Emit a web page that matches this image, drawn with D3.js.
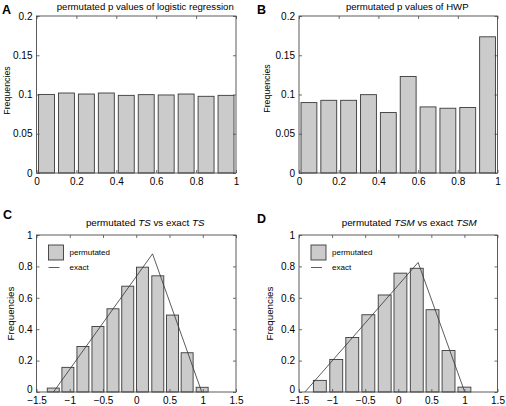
<!DOCTYPE html>
<html>
<head>
<meta charset="utf-8">
<script src="https://cdn.jsdelivr.net/npm/d3@7"></script>
<style>
  html, body { margin: 0; padding: 0; background: #fff; }
  svg { display: block; }
  text { font-family: "Liberation Sans", Arial, Helvetica, sans-serif; }
</style>
</head>
<body>
<script>
// ---------------- data ----------------
const pCenters = [0.05, 0.15, 0.25, 0.35, 0.45, 0.55, 0.65, 0.75, 0.85, 0.95];
const logisticFreq = [0.1001, 0.1019, 0.1006, 0.1019, 0.0989, 0.0998, 0.0994, 0.1006, 0.0977, 0.0989];
const hwpFreq = [0.0897, 0.0926, 0.0926, 0.0998, 0.0770, 0.1230, 0.0842, 0.0825, 0.0834, 0.1735];

const tsCenters = [-1.248, -1.028, -0.802, -0.576, -0.350, -0.128, 0.093, 0.324, 0.545, 0.765, 0.991];
const tsFreq = [0.025, 0.157, 0.290, 0.417, 0.530, 0.674, 0.795, 0.740, 0.490, 0.250, 0.030];
const tsExactX = [-1.245, 0.245, 0.985];
const tsExactY = [0, 0.880, 0];

const tsmCenters = [-1.185, -0.937, -0.695, -0.452, -0.205, 0.033, 0.280, 0.518, 0.760, 1.000];
const tsmFreq = [0.074, 0.207, 0.347, 0.492, 0.618, 0.757, 0.788, 0.524, 0.264, 0.031];
const tsmExactX = [-1.41, 0.30, 1.005];
const tsmExactY = [0, 0.825, 0];

const xTicksTop = [0, 0.2, 0.4, 0.6, 0.8, 1];
const xTickLabelsTop = ["0", "0.2", "0.4", "0.6", "0.8", "1"];
const yTicksTop = [0, 0.05, 0.1, 0.15, 0.2];
const yTickLabelsTop = ["0", "0.05", "0.1", "0.15", "0.2"];
const xTicksBottom = [-1.5, -1, -0.5, 0, 0.5, 1, 1.5];
const xTickLabelsBottom = ["\u22121.5", "\u22121", "\u22120.5", "0", "0.5", "1", "1.5"];
const yTicksBottom = [0, 0.2, 0.4, 0.6, 0.8, 1];
const yTickLabelsBottom = ["0", "0.2", "0.4", "0.6", "0.8", "1"];

const panelLetters = ["A", "B", "C", "D"];
const yLabel = "Frequencies";
const legendLabels = ["permutated", "exact"];

// ---------------- layout ----------------
const W = 506, H = 406;
const svg = d3.select("body").append("svg").attr("width", W).attr("height", H);
svg.append("rect").attr("width", W).attr("height", H).attr("fill", "#fff");

const BAR_FILL = "#cbcbcb", BAR_STROKE = "#3a3a3a", AX = "#4a4a4a";

const panels = [
  { letter: panelLetters[0], lx: 2, ly: 13.5,
    left: 36.5, right: 236, top: 16, bottom: 173,
    xDomain: [0, 1], yDomain: [0, 0.2],
    xTicks: xTicksTop, xLabels: xTickLabelsTop, yTicks: yTicksTop, yLabels: yTickLabelsTop,
    centers: pCenters, values: logisticFreq, barW: 0.08,
    titleParts: [["permutated p values of logistic regression", false]], titleY: 10, titleDx: 9, titleSize: 9.6,
    ylabX: -30, ylabDy: -4, ylabSize: 8.8, zeroLift: 0 },
  { letter: panelLetters[1], lx: 257, ly: 13.5,
    left: 299, right: 497.5, top: 16, bottom: 173,
    xDomain: [0, 1], yDomain: [0, 0.2],
    xTicks: xTicksTop, xLabels: xTickLabelsTop, yTicks: yTicksTop, yLabels: yTickLabelsTop,
    centers: pCenters, values: hwpFreq, barW: 0.08,
    titleParts: [["permutated p values of HWP", false]], titleY: 10, titleDx: 9, titleSize: 9.6,
    ylabX: -32, ylabDy: -6, ylabSize: 8.8, zeroLift: 0 },
  { letter: panelLetters[2], lx: 3, ly: 218.5,
    left: 36.5, right: 236, top: 235, bottom: 392,
    xDomain: [-1.5, 1.5], yDomain: [0, 1],
    xTicks: xTicksBottom, xLabels: xTickLabelsBottom, yTicks: yTicksBottom, yLabels: yTickLabelsBottom,
    centers: tsCenters, values: tsFreq, barW: 0.18,
    exactX: tsExactX, exactY: tsExactY,
    titleParts: [["permutated ", false], ["TS", true], [" vs exact ", false], ["TS", true]], titleY: 226, titleDx: 9, titleSize: 9.8,
    ylabX: -26, ylabDy: 0, ylabSize: 9.8, legend: true, zeroLift: 3 },
  { letter: panelLetters[3], lx: 257, ly: 223,
    left: 299, right: 497.5, top: 235, bottom: 392,
    xDomain: [-1.5, 1.5], yDomain: [0, 1],
    xTicks: xTicksBottom, xLabels: xTickLabelsBottom, yTicks: yTicksBottom, yLabels: yTickLabelsBottom,
    centers: tsmCenters, values: tsmFreq, barW: 0.195,
    exactX: tsmExactX, exactY: tsmExactY,
    titleParts: [["permutated ", false], ["TSM", true], [" vs exact ", false], ["TSM", true]], titleY: 226, titleDx: 11, titleSize: 9.8,
    ylabX: -29, ylabDy: 0, ylabSize: 9.8, legend: true, zeroLift: 3 }
];

panels.forEach(p => {
  const g = svg.append("g");
  const x = d3.scaleLinear().domain(p.xDomain).range([p.left, p.right]);
  const y = d3.scaleLinear().domain(p.yDomain).range([p.bottom, p.top]);

  // bars
  g.append("g").selectAll("rect").data(p.centers.map((c, i) => ({ c, v: p.values[i] })))
    .join("rect")
    .attr("x", d => x(d.c - p.barW / 2))
    .attr("width", d => x(d.c + p.barW / 2) - x(d.c - p.barW / 2))
    .attr("y", d => y(d.v))
    .attr("height", d => y(0) - y(d.v))
    .attr("fill", BAR_FILL)
    .attr("stroke", BAR_STROKE)
    .attr("stroke-width", 0.9);

  // exact line
  if (p.exactX) {
    const pts = p.exactX.map((v, i) => [v, p.exactY[i]]);
    g.append("path").datum(pts)
      .attr("d", d3.line().x(d => x(d[0])).y(d => y(d[1])))
      .attr("fill", "none").attr("stroke", "#333").attr("stroke-width", 0.8);
  }

  // axes (MATLAB style box with inward ticks)
  const styleAxis = sel => {
    sel.select(".domain").remove();
    sel.selectAll(".tick line").attr("stroke", AX).attr("stroke-width", 0.8);
    sel.selectAll(".tick text").attr("fill", "#000")
      .style("font-family", '"Liberation Sans", Arial, sans-serif').style("font-size", "10px");
  };
  g.append("g").attr("transform", `translate(0,${p.bottom})`)
    .call(d3.axisBottom(x).tickValues(p.xTicks).tickFormat((d, i) => p.xLabels[i])
      .tickSizeInner(-3).tickSizeOuter(0).tickPadding(5))
    .call(styleAxis);
  g.append("g").attr("transform", `translate(0,${p.top})`)
    .call(d3.axisTop(x).tickValues(p.xTicks).tickFormat("").tickSizeInner(-3).tickSizeOuter(0))
    .call(styleAxis);
  const yl = g.append("g").attr("transform", `translate(${p.left},0)`)
    .call(d3.axisLeft(y).tickValues(p.yTicks).tickFormat((d, i) => p.yLabels[i])
      .tickSizeInner(-3).tickSizeOuter(0).tickPadding(4))
    .call(styleAxis);
  if (p.zeroLift) {
    yl.selectAll(".tick text").filter(d => d === 0).attr("y", -p.zeroLift);
  }
  g.append("g").attr("transform", `translate(${p.right},0)`)
    .call(d3.axisRight(y).tickValues(p.yTicks).tickFormat("").tickSizeInner(-3).tickSizeOuter(0))
    .call(styleAxis);

  g.append("rect")
    .attr("x", p.left).attr("y", p.top)
    .attr("width", p.right - p.left).attr("height", p.bottom - p.top)
    .attr("fill", "none").attr("stroke", AX).attr("stroke-width", 0.9);

  // title
  const t = g.append("text")
    .attr("x", (p.left + p.right) / 2 + p.titleDx).attr("y", p.titleY)
    .attr("text-anchor", "middle").style("font-size", p.titleSize + "px").attr("fill", "#000");
  p.titleParts.forEach(([s, it]) => {
    t.append("tspan").text(s).style("font-style", it ? "italic" : "normal");
  });

  // y label
  g.append("text")
    .attr("transform", `translate(${p.left + p.ylabX},${(p.top + p.bottom) / 2 + p.ylabDy}) rotate(-90)`)
    .attr("text-anchor", "middle").attr("dy", "0.35em")
    .style("font-size", p.ylabSize + "px").attr("fill", "#000")
    .text(yLabel);

  // panel letter
  g.append("text").attr("x", p.lx).attr("y", p.ly)
    .style("font-size", "12.5px").style("font-weight", "bold").attr("fill", "#000")
    .text(p.letter);

  // legend
  if (p.legend) {
    const lg = g.append("g").attr("transform", `translate(${p.left + 12},${p.top + 10})`);
    lg.append("rect").attr("x", 0).attr("y", 0).attr("width", 15).attr("height", 15)
      .attr("fill", BAR_FILL).attr("stroke", BAR_STROKE).attr("stroke-width", 0.9);
    lg.append("text").attr("x", 21).attr("y", 7.5).attr("dy", "0.35em")
      .style("font-size", "8px").attr("fill", "#000").text(legendLabels[0]);
    lg.append("line").attr("x1", 0).attr("x2", 11).attr("y1", 22.5).attr("y2", 22.5)
      .attr("stroke", "#333").attr("stroke-width", 0.8);
    lg.append("text").attr("x", 21).attr("y", 22.5).attr("dy", "0.35em")
      .style("font-size", "8px").attr("fill", "#000").text(legendLabels[1]);
  }
});
</script>
</body>
</html>
